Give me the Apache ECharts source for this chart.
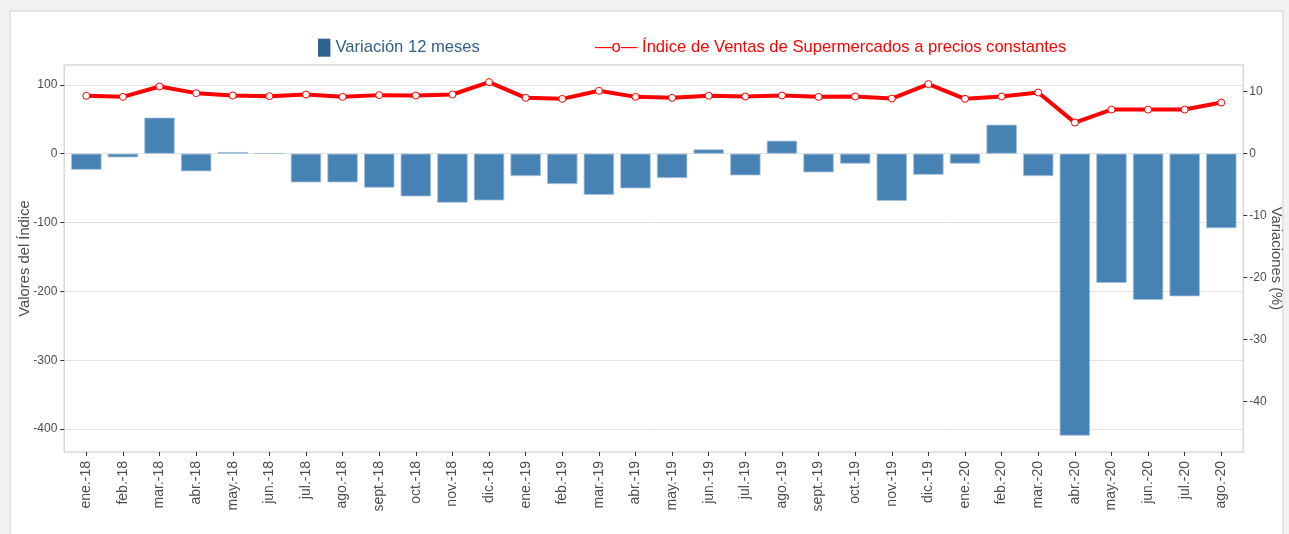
<!DOCTYPE html>
<html>
<head>
<meta charset="utf-8">
<script src="https://cdn.jsdelivr.net/npm/echarts@6/dist/echarts.min.js"></script>
<style>
  html, body { margin: 0; padding: 0; background: #f2f2f2; }
  #card { position: absolute; left: 9px; top: 10px; width: 1271px; height: 540px; background: #fff; border: 2px solid #e4e4e4; }
  #chart { position: absolute; left: 0; top: 0; width: 1289px; height: 534px; }
</style>
</head>
<body>
<div id="card"></div>
<div id="chart"></div>
<script>
var meses = ['ene.-18','feb.-18','mar.-18','abr.-18','may.-18','jun.-18','jul.-18','ago.-18','sept.-18','oct.-18','nov.-18','dic.-18',
             'ene.-19','feb.-19','mar.-19','abr.-19','may.-19','jun.-19','jul.-19','ago.-19','sept.-19','oct.-19','nov.-19','dic.-19',
             'ene.-20','feb.-20','mar.-20','abr.-20','may.-20','jun.-20','jul.-20','ago.-20'];
// variación 12 meses (eje izquierdo)
var variacion = [-23.3, -5.3, 52.4, -25.6, 2.4, 0.5, -41.7, -41.7, -49.4, -62.1, -71.2, -67.9,
                 -32.5, -44.1, -59.7, -50.4, -35.4, 6.3, -31.5, 18.9, -27.1, -14.5, -68.4, -30.6,
                 -14.5, 42.2, -32.5, -409.5, -187.7, -212.5, -207.1, -108.2];
// índice de ventas, variación % (eje derecho)
var indice = [9.34, 9.17, 10.84, 9.77, 9.39, 9.28, 9.55, 9.17, 9.45, 9.39, 9.55, 11.55,
              9.01, 8.85, 10.15, 9.17, 9.01, 9.34, 9.23, 9.39, 9.17, 9.23, 8.9, 11.23,
              8.85, 9.23, 9.87, 5.02, 7.12, 7.12, 7.12, 8.25];
var ticksIzq = [-400, -300, -200, -100, 0, 100];
var ticksDer = [-40, -30, -20, -10, 0, 10];

var nombreBarra = 'Variación 12 meses';
var nombreLinea = 'Índice de Ventas de Supermercados a precios constantes';
var fuente = '"Liberation Sans", Arial, sans-serif';

// limites de los ejes (el derecho es el izquierdo / 9)
var izqMin = -433.2, izqMax = 128.8;
var derMin = izqMin / 9, derMax = izqMax / 9;

var myChart = echarts.init(document.getElementById('chart'));
var option = {
    backgroundColor: 'transparent',
    textStyle: { fontFamily: fuente },
    animation: false,
    legend: [
        {
            left: 318, top: 38.7, padding: 0,
            itemWidth: 12.4, itemHeight: 18,
            data: [{ name: nombreBarra, icon: 'rect', itemStyle: { color: '#30608c', borderWidth: 0 } }],
            textStyle: { color: '#31618e', fontSize: 16.6, fontFamily: fuente },
            itemGap: 0,
            selectedMode: false
        },
        {
            left: 580, top: 38.7, padding: 0,
            itemWidth: 10, itemHeight: 18,
            data: [{ name: nombreLinea, icon: 'none' }],
            formatter: '—o— {name}',
            textStyle: { color: '#ff0000', fontSize: 16.6, fontFamily: fuente },
            selectedMode: false
        }
    ],
    grid: [
        { left: 68, right: 49.4, top: 65, bottom: 82, outerBoundsMode: 'none' },
        { left: 64.3, right: 45.7, top: 65, bottom: 82, outerBoundsMode: 'none',
          show: true, borderColor: '#d9d9d9', borderWidth: 1.5, backgroundColor: 'transparent' }
    ],
    xAxis: [
        {
            type: 'category', gridIndex: 0, data: meses,
            axisLine: { show: false, onZero: false },
            axisTick: { show: true, alignWithLabel: true, length: 4, lineStyle: { color: '#333' } },
            axisLabel: { rotate: 90, interval: 0, fontSize: 14, color: '#4d4d4d', margin: 9 },
            splitLine: { show: false }
        },
        { type: 'value', gridIndex: 1, min: 0, max: 1, show: false }
    ],
    yAxis: [
        {
            type: 'value', gridIndex: 1, position: 'left', min: izqMin, max: izqMax,
            name: 'Valores del Índice', nameLocation: 'middle', nameGap: 32, nameMoveOverlap: false,
            nameTextStyle: { fontSize: 14.8, color: '#4d4d4d' },
            axisLine: { show: false },
            axisTick: { show: true, length: 4, lineStyle: { color: '#333' }, customValues: ticksIzq },
            axisLabel: { fontSize: 12, color: '#4d4d4d', margin: 7, customValues: ticksIzq },
            splitLine: { show: true, lineStyle: { color: '#e3e3e3', width: 1 } }
        },
        {
            type: 'value', gridIndex: 1, position: 'right', min: derMin, max: derMax,
            name: 'Variaciones (%)', nameLocation: 'middle', nameRotate: -90, nameGap: 25, nameMoveOverlap: false,
            nameTextStyle: { fontSize: 14.8, color: '#4d4d4d' },
            axisLine: { show: false },
            axisTick: { show: true, length: 4, lineStyle: { color: '#333' }, customValues: ticksDer },
            axisLabel: { fontSize: 12, color: '#4d4d4d', margin: 6, customValues: ticksDer },
            splitLine: { show: false }
        },
        { type: 'value', gridIndex: 0, min: izqMin, max: izqMax, show: false, splitLine: { show: false } },
        { type: 'value', gridIndex: 0, min: derMin, max: derMax, show: false, splitLine: { show: false } }
    ],
    series: [
        {
            name: nombreBarra, type: 'bar', xAxisIndex: 0, yAxisIndex: 2,
            data: variacion, barWidth: '83%',
            itemStyle: { color: '#4682b4', borderColor: '#a8c2dc', borderWidth: 0.8 }
        },
        {
            name: nombreLinea, type: 'line', xAxisIndex: 0, yAxisIndex: 3,
            data: indice, z: 5,
            symbol: 'circle', symbolSize: 7, showAllSymbol: true,
            lineStyle: { color: '#ff0000', width: 4 },
            itemStyle: { color: '#ffffff', borderColor: '#ff0000', borderWidth: 1 }
        }
    ]
};
myChart.setOption(option);
</script>
</body>
</html>
